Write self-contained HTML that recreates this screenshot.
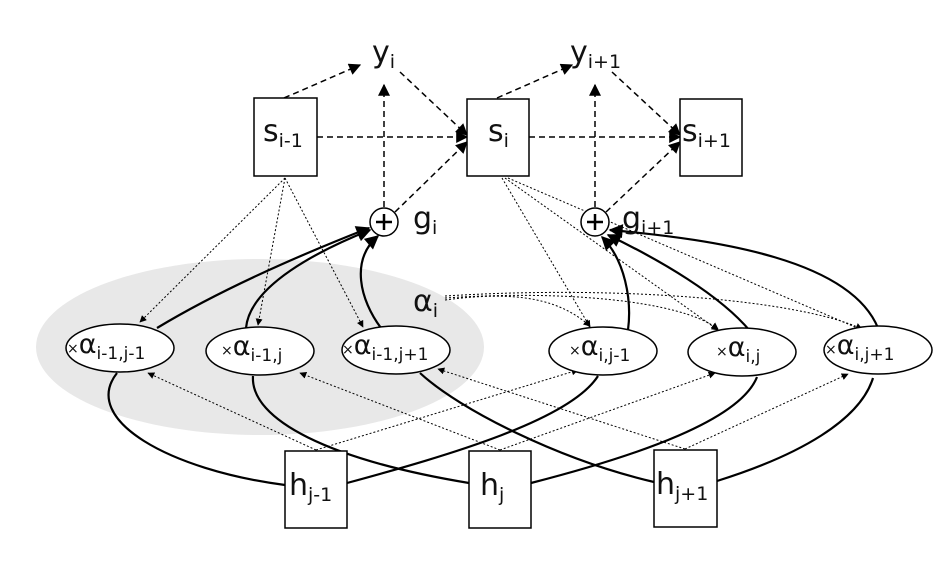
<!DOCTYPE html>
<html><head><style>body{margin:0;background:#fff}svg{display:block}text{font-family:"DejaVu Sans","Liberation Sans",sans-serif;fill:#111}</style></head><body>
<svg width="942" height="570" viewBox="0 0 942 570" xmlns="http://www.w3.org/2000/svg">
<defs>
<marker id="a" viewBox="0 0 10 10" refX="9" refY="5" markerWidth="7" markerHeight="7" orient="auto" markerUnits="userSpaceOnUse"><path d="M0,0L10,5L0,10z" fill="#000"/></marker>
<marker id="b" viewBox="0 0 10 10" refX="9" refY="5" markerWidth="16" markerHeight="14" orient="auto" markerUnits="userSpaceOnUse"><path d="M0,0L10,5L0,10z" fill="#000"/></marker>
<marker id="c" viewBox="0 0 10 10" refX="9" refY="5" markerWidth="14" markerHeight="12" orient="auto" markerUnits="userSpaceOnUse"><path d="M0,0L10,5L0,10z" fill="#000"/></marker>
</defs>
<ellipse cx="260" cy="347" rx="224" ry="88" fill="#e8e8e8"/>
<g stroke="#000" stroke-width="1.5" fill="none" stroke-dasharray="6,4" marker-end="url(#c)">
<path d="M284,98L360,65"/><path d="M400,72L467,135"/><path d="M317,137L467,137"/><path d="M384,207L384,85"/><path d="M395,212L467,142"/>
<path d="M497,98L572,65"/><path d="M612,72L680,135"/><path d="M529,137L680,137"/><path d="M595,207L595,85"/><path d="M606,212L680,142"/>
</g>
<g stroke="#000" stroke-width="1" fill="none" stroke-dasharray="2,2" marker-end="url(#a)">
<path d="M285,178L140,322"/><path d="M285,178L258,325"/><path d="M285,178L363,327"/>
<path d="M502,178L590,327"/><path d="M505,178L718,330"/><path d="M508,178L862,330"/>
<path d="M445,300C520,290 560,300 590,326"/><path d="M445,298C560,290 680,300 718,329"/><path d="M445,296C620,285 800,300 862,329"/>
<path d="M316,450L148,373"/><path d="M316,450L578,370"/>
<path d="M500,450L300,373"/><path d="M500,450L715,373"/>
<path d="M685,449L438,369"/><path d="M685,449L848,374"/>
</g>
<g stroke="#000" stroke-width="2.2" fill="none">
<path d="M285,485C170,470 80,420 117,373"/>
<path d="M347,483C450,455 570,420 598,376"/>
<path d="M469,483C330,460 250,420 253,376"/>
<path d="M531,483C640,455 740,420 757,377"/>
<path d="M654,482C560,460 460,410 420,373"/>
<path d="M717,481C800,455 860,420 873,378"/>
</g>
<g stroke="#000" stroke-width="2.2" fill="none" marker-end="url(#b)">
<path d="M157,328C220,290 300,255 369,228"/>
<path d="M246,328C250,285 320,250 370,230"/>
<path d="M381,328C360,300 350,260 378,236"/>
<path d="M628,330C632,300 625,260 602,237"/>
<path d="M750,331C720,295 660,260 608,235"/>
<path d="M878,328C850,260 720,240 610,230"/>
</g>
<g fill="#fff" stroke="#000" stroke-width="1.5">
<rect x="254" y="98" width="63" height="78"/><rect x="467" y="99" width="62" height="77"/><rect x="680" y="99" width="62" height="77"/>
<rect x="285" y="451" width="62" height="77"/><rect x="469" y="451" width="62" height="77"/><rect x="654" y="450" width="63" height="77"/>
<ellipse cx="120" cy="348" rx="54" ry="24"/><ellipse cx="260" cy="351" rx="54" ry="24"/><ellipse cx="396" cy="350" rx="54" ry="24"/>
<ellipse cx="603" cy="351" rx="54" ry="24"/><ellipse cx="742" cy="352" rx="54" ry="24"/><ellipse cx="878" cy="350" rx="54" ry="24"/>
<circle cx="384" cy="222" r="14"/><circle cx="595" cy="222" r="14"/>
</g>
<g stroke="#000" stroke-width="2.5"><path d="M376,222H392M384,214V230"/><path d="M587,222H603M595,214V230"/></g>
<g font-size="30">
<text x="263" y="141">s<tspan font-size="19" dy="6">i-1</tspan></text>
<text x="488" y="141">s<tspan font-size="19" dy="6">i</tspan></text>
<text x="682" y="141">s<tspan font-size="19" dy="6">i+1</tspan></text>
<text x="372" y="62">y<tspan font-size="19" dy="6">i</tspan></text>
<text x="570" y="62">y<tspan font-size="19" dy="6">i+1</tspan></text>
<text x="413" y="228">g<tspan font-size="19" dy="6">i</tspan></text>
<text x="622" y="228">g<tspan font-size="19" dy="6">i+1</tspan></text>
<text x="289" y="495">h<tspan font-size="19" dy="6">j-1</tspan></text>
<text x="480" y="495">h<tspan font-size="19" dy="6">j</tspan></text>
<text x="656" y="494">h<tspan font-size="19" dy="6">j+1</tspan></text>
<text x="413" y="311">α<tspan font-size="19" dy="6">i</tspan></text>
</g>
<g font-size="27">
<text x="67" y="353"><tspan font-size="14">×</tspan>α<tspan font-size="17" dy="6">i-1,j-1</tspan></text>
<text x="221" y="355"><tspan font-size="14">×</tspan>α<tspan font-size="17" dy="6">i-1,j</tspan></text>
<text x="342" y="354"><tspan font-size="14">×</tspan>α<tspan font-size="17" dy="6">i-1,j+1</tspan></text>
<text x="569" y="355"><tspan font-size="14">×</tspan>α<tspan font-size="17" dy="6">i,j-1</tspan></text>
<text x="716" y="356"><tspan font-size="14">×</tspan>α<tspan font-size="17" dy="6">i,j</tspan></text>
<text x="825" y="354"><tspan font-size="14">×</tspan>α<tspan font-size="17" dy="6">i,j+1</tspan></text>
</g>
</svg>
</body></html>
